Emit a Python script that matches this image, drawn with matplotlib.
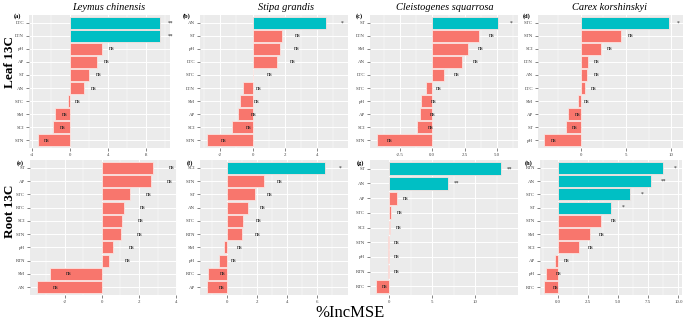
import matplotlib.pyplot as plt
from matplotlib.ticker import FixedLocator

plt.rcParams['font.family'] = ['Liberation Serif', 'DejaVu Serif']

TEAL = '#00BFC4'
SALMON = '#F8766D'

# top row: Leaf 13C
a_vars = ['LTC', 'LTN', 'pH', 'AP', 'ST', 'AN', 'STC', 'SM', 'SCI', 'STN']
a_vals = [9.5, 9.5, 3.4, 2.8, 2.0, 1.5, -0.2, -1.6, -1.8, -3.4]
a_sig = ['**', '**', 'ns', 'ns', 'ns', 'ns', 'ns', 'ns', 'ns', 'ns']

b_vars = ['AN', 'ST', 'pH', 'LTC', 'STC', 'LTN', 'SM', 'AP', 'SCI', 'STN']
b_vals = [4.55, 1.8, 1.7, 1.5, 0.05, -0.6, -0.75, -0.93, -1.25, -2.8]
b_sig = ['*', 'ns', 'ns', 'ns', 'ns', 'ns', 'ns', 'ns', 'ns', 'ns']

c_vars = ['ST', 'LTN', 'SM', 'AN', 'LTC', 'STC', 'pH', 'AP', 'SCI', 'STN']
c_vals = [5.05, 3.6, 2.75, 2.3, 0.9, -0.5, -0.9, -0.95, -1.15, -4.25]
c_sig = ['*', 'ns', 'ns', 'ns', 'ns', 'ns', 'ns', 'ns', 'ns', 'ns']

d_vars = ['STC', 'STN', 'SCI', 'LTN', 'AN', 'LTC', 'SM', 'AP', 'ST', 'pH']
d_vals = [9.8, 4.5, 2.2, 0.8, 0.75, 0.45, -0.3, -1.35, -1.65, -4.0]
d_sig = ['*', 'ns', 'ns', 'ns', 'ns', 'ns', 'ns', 'ns', 'ns', 'ns']

# bottom row: Root 13C
e_vars = ['ST', 'AP', 'STC', 'RTC', 'SCI', 'STN', 'pH', 'RTN', 'SM', 'AN']
e_vals = [2.75, 2.67, 1.53, 1.2, 1.08, 1.04, 0.6, 0.4, -2.8, -3.5]
e_sig = ['ns'] * 10

f_vars = ['SCI', 'STN', 'ST', 'AN', 'STC', 'RTN', 'SM', 'pH', 'RTC', 'AP']
f_vals = [6.55, 2.5, 1.87, 1.4, 1.1, 1.05, -0.15, -0.5, -1.26, -1.3]
f_sig = ['*', 'ns', 'ns', 'ns', 'ns', 'ns', 'ns', 'ns', 'ns', 'ns']

g_vars = ['ST', 'AN', 'AP', 'STC', 'SCI', 'STN', 'pH', 'RTN', 'RTC']
g_vals = [13.05, 6.85, 0.85, 0.2, 0.06, -0.1, -0.2, -0.15, -1.55]
g_sig = ['**', '**', 'ns', 'ns', 'ns', 'ns', 'ns', 'ns', 'ns']

h_vars = ['RTN', 'AN', 'STC', 'ST', 'STN', 'SM', 'SCI', 'AP', 'pH', 'RTC']
h_vals = [8.7, 7.73, 5.98, 4.37, 3.6, 2.64, 1.75, -0.28, -0.97, -1.2]
h_sig = ['*', '**', '*', '*', 'ns', 'ns', 'ns', 'ns', 'ns', 'ns']

species = ['Leymus chinensis', 'Stipa grandis', 'Cleistogenes squarrosa', 'Carex korshinskyi']

panels = [
    ('(a)', a_vars, a_vals, a_sig, (-4.3, 10.5), [-4, 0, 4, 8], ['-4', '0', '4', '8']),
    ('(b)', b_vars, b_vals, b_sig, (-3.25, 5.9), [-2, 0, 2, 4], ['-2', '0', '2', '4']),
    ('(c)', c_vars, c_vals, c_sig, (-4.8, 6.6), [-2.5, 0, 2.5, 5], ['-2.5', '0.0', '2.5', '5.0']),
    ('(d)', d_vars, d_vals, d_sig, (-4.7, 11.3), [0, 5, 10], ['0', '5', '10']),
    ('(e)', e_vars, e_vals, e_sig, (-3.87, 4.05), [-2, 0, 2, 4], ['-2', '0', '2', '4']),
    ('(f)', f_vars, f_vals, f_sig, (-1.77, 8.07), [0, 2, 4, 6], ['0', '2', '4', '6']),
    ('(g)', g_vars, g_vals, g_sig, (-2.25, 15.0), [0, 5, 10], ['0', '5', '10']),
    ('(h)', h_vars, h_vals, h_sig, (-1.5, 10.3), [0, 2.5, 5, 7.5, 10], ['0.0', '2.5', '5.0', '7.5', '10.0']),
]

# axes boxes in pixels: left, right, top, bottom
W, H = 685, 320
boxes = [
    (29, 170, 15, 148), (200, 348, 15, 148), (370, 518, 15, 148), (538, 683, 15, 148),
    (30, 177, 160, 295), (200, 348, 160, 295), (370, 518, 160, 295), (540, 682, 160, 295),
]
letter_pos = [(14, 16), (183, 16), (356, 16), (523, 16),
              (17, 163), (187, 163), (357, 163), (525, 163)]
title_x = [109, 286, 445, 609]

fig = plt.figure(figsize=(6.85, 3.2), dpi=100)

for i, (tag, cats, vals, sig, xlim, ticks, tlabels) in enumerate(panels):
    l, r, t, b = boxes[i]
    ax = fig.add_axes([l / W, 1 - b / H, (r - l) / W, (b - t) / H])
    ax.set_facecolor('#EBEBEB')
    n = len(cats)
    ypos = list(range(n, 0, -1))
    colors = [TEAL if s != 'ns' else SALMON for s in sig]
    ax.barh(ypos, vals, height=0.9, color=colors, edgecolor='#fbe3e0', linewidth=0.6, zorder=3)
    # significance labels sit one unit right of the bar end
    for y, v, s in zip(ypos, vals, sig):
        ax.text(v + 1.0, y, s, ha='center', va='center',
                fontsize=4.5 if s == 'ns' else 4, color='#222222', zorder=4)
    ax.set_xlim(*xlim)
    ax.set_ylim(0.4, n + 0.6)
    ax.set_yticks(ypos)
    ax.set_yticklabels(cats, fontsize=3.5, color='#444444')
    ax.set_xticks(ticks)
    ax.set_xticklabels(tlabels, fontsize=3.5, color='#444444')
    minors = [(ticks[k] + ticks[k + 1]) / 2 for k in range(len(ticks) - 1)]
    step = ticks[1] - ticks[0]
    minors = [ticks[0] - step / 2] + minors + [ticks[-1] + step / 2]
    ax.xaxis.set_minor_locator(FixedLocator(minors))
    ax.grid(True, which='major', color='white', linewidth=0.7, zorder=0)
    ax.grid(True, which='minor', axis='x', color='white', linewidth=0.35, zorder=0)
    ax.set_axisbelow(True)
    ax.tick_params(axis='both', which='major', length=2, width=0.5, color='#555555', pad=1.5)
    ax.tick_params(axis='x', which='minor', length=0)
    for sp in ax.spines.values():
        sp.set_visible(False)
    if i < 4:
        fig.text(title_x[i] / W, 1 - 7 / H, species[i], fontstyle='italic', fontsize=7.5,
                 ha='center', va='center')
    lx, ly = letter_pos[i]
    fig.text(lx / W, 1 - ly / H, tag, fontsize=4.5, fontweight='bold', ha='left', va='center')

fig.text(10 / W, 1 - 62 / H, 'Leaf 13C', rotation=90, fontsize=9.5, fontweight='bold',
         ha='center', va='center')
fig.text(10 / W, 1 - 211 / H, 'Root 13C', rotation=90, fontsize=9.5, fontweight='bold',
         ha='center', va='center')
fig.text(350 / W, 1 - 313 / H, '%IncMSE', fontsize=12, ha='center', va='center')

fig.savefig('out.png', dpi=100)
